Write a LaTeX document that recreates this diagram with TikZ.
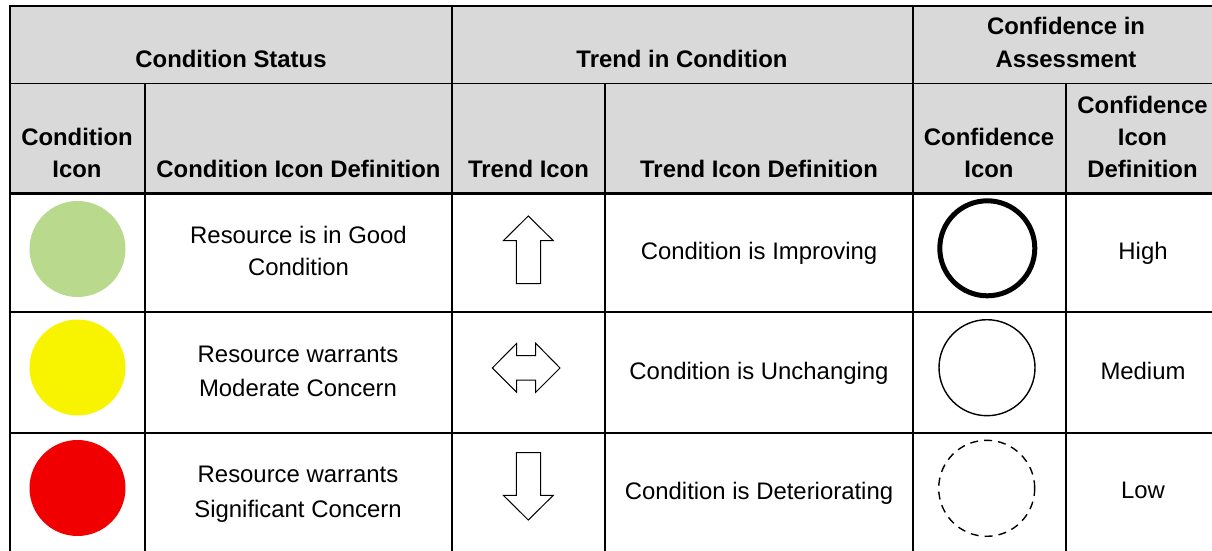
\documentclass[tikz,border=0pt]{standalone}
\usepackage{fontspec}
\setmainfont{Liberation Sans}
\definecolor{headgray}{HTML}{D9D9D9}
\definecolor{goodgreen}{HTML}{B9D98C}
\definecolor{warnyellow}{HTML}{F8F400}
\definecolor{badred}{HTML}{F00000}
\tikzset{
  txt/.style={anchor=base,inner sep=0pt,outer sep=0pt,text=black,font=\fontsize{23.9}{28}\selectfont},
  hd/.style={txt,font=\fontsize{23.9}{28}\selectfont\bfseries},
  thickrule/.style={line width=2.2pt,black},
  thinrule/.style={line width=1.5pt,black},
  dot/.style={circle,minimum size=96pt,inner sep=0pt,outer sep=0pt},
  ring/.style={circle,draw=black,minimum size=96pt,inner sep=0pt,outer sep=0pt},
  arrowicon/.style={draw=black,line width=1pt,fill=white,line join=miter}
}
\begin{document}
\begin{tikzpicture}[x=1pt,y=-1pt]
\useasboundingbox (0,0) rectangle (1212,551);
\fill[white] (0,0) rectangle (1212,551);
\fill[headgray] (10,6) rectangle (1212,193.5);
% grid
\draw[thickrule] (10,6) -- (1212,6);
\draw[thinrule] (10,83.5) -- (1212,83.5);
\draw[thickrule] (10,193.5) -- (1212,193.5);
\draw[thickrule] (10,311.7) -- (1212,311.7);
\draw[thickrule] (10,433) -- (1212,433);
\draw[thickrule] (10,5) -- (10,551);
\draw[thickrule] (145,83.5) -- (145,551);
\draw[thickrule] (452,5) -- (452,551);
\draw[thickrule] (605,83.5) -- (605,551);
\draw[thickrule] (913,5) -- (913,551);
\draw[thickrule] (1066,83.5) -- (1066,551);
% group headers
\node[hd] (h1) at (231,67) {Condition Status};
\node[hd] (h2) at (682,67) {Trend in Condition};
\node[hd] (h3a) at (1066,34.5) {Confidence in};
\node[hd] (h3b) at (1066,67) {Assessment};
% sub headers
\node[hd] (s1a) at (77,145) {Condition};
\node[hd] (s1b) at (77,177) {Icon};
\node[hd] (s2) at (298.5,177) {Condition Icon Definition};
\node[hd] (s3) at (528.5,177) {Trend Icon};
\node[hd] (s4) at (759,177) {Trend Icon Definition};
\node[hd] (s5a) at (989,145) {Confidence};
\node[hd] (s5b) at (989,177) {Icon};
\node[hd] (s6a) at (1142.5,113) {Confidence};
\node[hd] (s6b) at (1142.5,145) {Icon};
\node[hd] (s6c) at (1142.5,177) {Definition};
% condition icons
\node[dot,fill=goodgreen] (cg) at (77.5,249) {};
\node[dot,fill=warnyellow] (cy) at (77.5,367.5) {};
\node[dot,fill=badred] (cr) at (77.5,488) {};
% condition definitions
\node[txt] (d1a) at (298.5,243) {Resource is in Good};
\node[txt] (d1b) at (298.5,275) {Condition};
\node[txt] (d2a) at (298,362) {Resource warrants};
\node[txt] (d2b) at (298,396) {Moderate Concern};
\node[txt] (d3a) at (298,482) {Resource warrants};
\node[txt] (d3b) at (298,517) {Significant Concern};
% trend icons
\draw[arrowicon] (528.3,216) -- (553.3,240.7) -- (540.7,240.7) -- (540.7,283.7) -- (516.3,283.7) -- (516.3,240.7) -- (503.3,240.7) -- cycle;
\draw[arrowicon] (492.3,368) -- (516.7,343.3) -- (516.7,355.7) -- (535.7,355.7) -- (535.7,343.3) -- (560,368) -- (535.7,392.3) -- (535.7,380) -- (516.7,380) -- (516.7,392.3) -- cycle;
\draw[arrowicon] (528.3,520) -- (553.3,495.3) -- (540.7,495.3) -- (540.7,452.7) -- (516.3,452.7) -- (516.3,495.3) -- (503.3,495.3) -- cycle;
% trend definitions
\node[txt] (t1) at (759,259.5) {Condition is Improving};
\node[txt] (t2) at (759,379) {Condition is Unchanging};
\node[txt] (t3) at (759,499) {Condition is Deteriorating};
% confidence icons
\node[ring,line width=5pt,minimum size=95pt] (rh) at (987.3,248.3) {};
\node[ring,line width=1.4pt] (rm) at (987,367.7) {};
\node[ring,line width=1.4pt,dash pattern=on 8pt off 6pt] (rl) at (986.7,488.3) {};
% confidence definitions
\node[txt] (c1) at (1143,259) {High};
\node[txt] (c2) at (1143,379) {Medium};
\node[txt] (c3) at (1143,498.5) {Low};
\end{tikzpicture}
\end{document}
